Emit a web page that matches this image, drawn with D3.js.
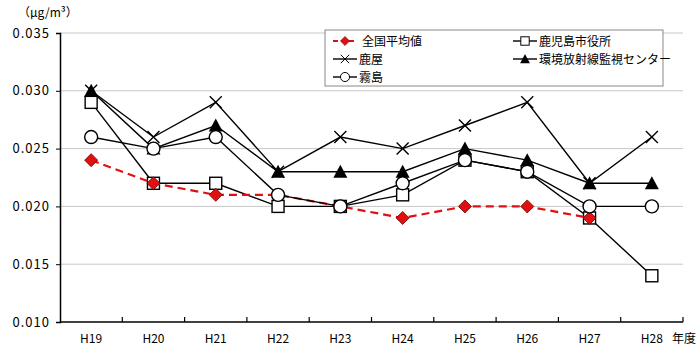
<!DOCTYPE html>
<html><head><meta charset="utf-8">
<script src="https://cdn.jsdelivr.net/npm/d3@7"></script>
<style>body{margin:0;background:#fff}svg{display:block}text{font-family:"Noto Sans CJK JP",sans-serif}</style>
</head><body><svg id="c" width="700" height="349"></svg>
<script>
const categories = ["H19","H20","H21","H22","H23","H24","H25","H26","H27","H28"];
const yTicks = [0.010,0.015,0.020,0.025,0.030,0.035];
const zenkoku = [0.024,0.022,0.021,0.021,0.020,0.019,0.020,0.020,0.019,null];
const shiyakusho = [0.029,0.022,0.022,0.020,0.020,0.021,0.024,0.023,0.019,0.014];
const kanoya = [0.030,0.026,0.029,0.023,0.026,0.025,0.027,0.029,0.022,0.026];
const center = [0.030,0.025,0.027,0.023,0.023,0.023,0.025,0.024,0.022,0.022];
const kirishima = [0.026,0.025,0.026,0.021,0.020,0.022,0.024,0.023,0.020,0.020];

const sKanoya = {name:"鹿屋", values:kanoya, marker:"x"};
const sCenter = {name:"環境放射線監視センター", values:center, marker:"tri"};
const sKiri = {name:"霧島", values:kirishima, marker:"circle"};
const sShi = {name:"鹿児島市役所", values:shiyakusho, marker:"square"};
const sZen = {name:"全国平均値", values:zenkoku, marker:"diamond", red:true};
const drawOrder = [sKanoya, sCenter, sShi, sZen, sKiri];

const svg = d3.select("#c");
const L=60, R=683, T=33, B=322;
const x = d3.scaleBand().domain(categories).range([L,R]);
const y = d3.scaleLinear().domain([0.010,0.035]).range([B,T]);

// gridlines
svg.append("g").selectAll("line").data(yTicks.slice(1)).join("line")
  .attr("x1",L).attr("x2",R).attr("y1",d=>y(d)).attr("y2",d=>y(d))
  .attr("stroke","#c8c8c8").attr("stroke-width",1);

// y axis
const ya = svg.append("g").attr("transform",`translate(${L},0)`)
  .call(d3.axisLeft(y).tickValues(yTicks).tickSize(4).tickFormat(d3.format(".3f")));
ya.select(".domain").attr("stroke","#000").attr("stroke-width",1.5);
ya.selectAll("text").attr("font-size",13).attr("fill","#000").attr("dx",-3).attr("letter-spacing","1px");

// x axis
const xa = svg.append("g").attr("transform",`translate(0,${B})`)
  .call(d3.axisBottom(x).tickSize(0).tickPadding(12));
xa.select(".domain").attr("stroke","#000").attr("stroke-width",1.5).attr("d",`M${L},0H${R}`);
xa.selectAll("text").attr("font-size",12).attr("fill","#000");
svg.append("g").selectAll("line").data(categories).join("line")
  .attr("x1",(d,i)=>L+(i+1)*x.bandwidth()).attr("x2",(d,i)=>L+(i+1)*x.bandwidth())
  .attr("y1",B).attr("y2",B-5).attr("stroke","#000").attr("stroke-width",1.2);

svg.append("text").attr("x",18).attr("y",17).attr("font-size",12).text("（μg/m³）");
svg.append("text").attr("x",672).attr("y",343).attr("font-size",12).text("年度");

function drawMarker(g, type, cx, cy){
  if(type==="x"){
    g.append("path").attr("d",`M${cx-6},${cy-6}L${cx+6},${cy+6}M${cx-6},${cy+6}L${cx+6},${cy-6}`)
      .attr("stroke","#000").attr("stroke-width",1.4).attr("fill","none");
  } else if(type==="tri"){
    g.append("path").attr("d",`M${cx},${cy-7}L${cx+7},${cy+6}L${cx-7},${cy+6}Z`).attr("fill","#000");
  } else if(type==="circle"){
    g.append("circle").attr("cx",cx).attr("cy",cy).attr("r",6.5).attr("fill","#fff").attr("stroke","#000").attr("stroke-width",1.4);
  } else if(type==="square"){
    g.append("rect").attr("x",cx-6).attr("y",cy-6).attr("width",12).attr("height",12).attr("fill","#fff").attr("stroke","#000").attr("stroke-width",1.4);
  } else if(type==="diamond"){
    g.append("path").attr("d",`M${cx},${cy-6.5}L${cx+6.5},${cy}L${cx},${cy+6.5}L${cx-6.5},${cy}Z`)
      .attr("fill","#e01010").attr("stroke","#600").attr("stroke-width",0.8);
  }
}

const line = d3.line().defined(d=>d.v!=null).x(d=>x(d.c)+x.bandwidth()/2).y(d=>y(d.v));
drawOrder.forEach(s=>{
  const g = svg.append("g");
  const pts = categories.map((c,i)=>({c, v:s.values[i]}));
  g.append("path").datum(pts).attr("d",line).attr("fill","none")
    .attr("stroke", s.red?"#e01010":"#000").attr("stroke-width", s.red?2.2:1.4)
    .attr("stroke-dasharray", s.red?"8,5":null);
  pts.filter(p=>p.v!=null).forEach(p=>drawMarker(g, s.marker, x(p.c)+x.bandwidth()/2, y(p.v)));
});

// legend
const lg = svg.append("g");
lg.append("rect").attr("x",325).attr("y",30).attr("width",338).attr("height",56)
  .attr("fill","#fff").attr("stroke","#888").attr("stroke-width",1);
const legendItems = [
  {s:sZen, x:333, y:41},
  {s:sShi, x:513, y:41},
  {s:sKanoya, x:333, y:59},
  {s:sCenter, x:513, y:59},
  {s:sKiri, x:333, y:77}
];
legendItems.forEach(it=>{
  const s = it.s;
  lg.append("line").attr("x1",it.x).attr("x2",it.x+24).attr("y1",it.y).attr("y2",it.y)
    .attr("stroke", s.red?"#e01010":"#000").attr("stroke-width", s.red?2:1.4)
    .attr("stroke-dasharray", s.red?"5,3":null);
  const m = lg.append("g").attr("transform",`translate(${it.x+12},${it.y}) scale(0.7) translate(${-(it.x+12)},${-it.y})`);
  drawMarker(m, s.marker, it.x+12, it.y);
  lg.append("text").attr("x",it.x+ (s.red?29:26)).attr("y",it.y+4.5).attr("font-size",12).text(s.name);
});
</script></body></html>
